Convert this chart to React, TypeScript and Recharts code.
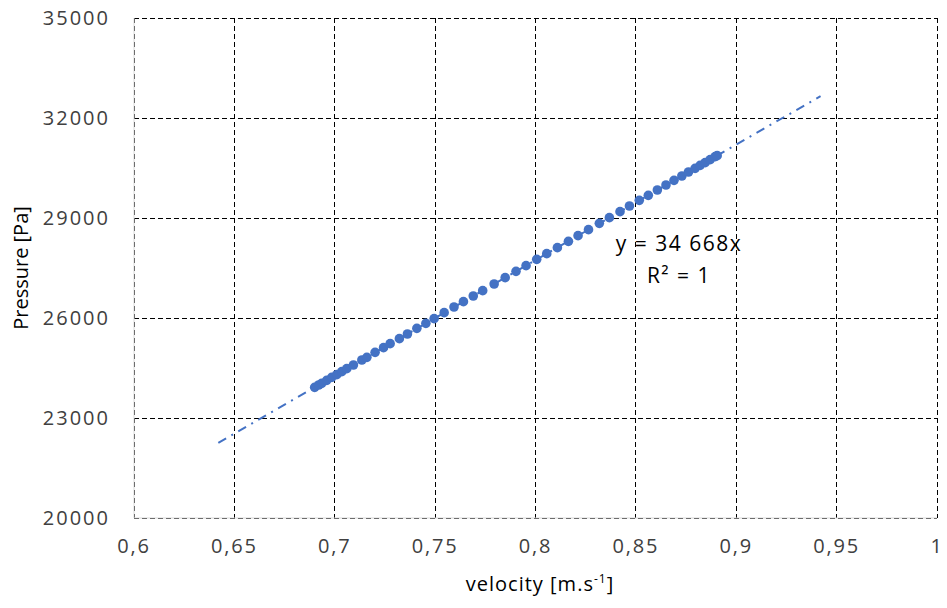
import React from 'react';
import {
  ScatterChart,
  Scatter,
  XAxis,
  YAxis,
  CartesianGrid,
} from 'recharts';

// measured points (velocity m/s, pressure Pa)
const velocity = [
  0.690, 0.692, 0.6935, 0.696, 0.6985, 0.701, 0.7035, 0.706, 0.7093, 0.7135,
  0.716, 0.7201, 0.7243, 0.7276, 0.7322, 0.7362, 0.7409, 0.7454, 0.7495, 0.7545,
  0.7594, 0.7641, 0.769, 0.7737, 0.7794, 0.7849, 0.7903, 0.7953, 0.8006, 0.8056,
  0.8109, 0.8164, 0.8212, 0.8264, 0.8318, 0.8368, 0.8421, 0.8468, 0.8517, 0.8562,
  0.8607, 0.865, 0.869, 0.8729, 0.8762, 0.8795, 0.882, 0.8845, 0.887, 0.8895, 0.8905,
];
const pressure = [
  23920, 23990, 24040, 24130, 24220, 24300, 24390, 24480, 24590, 24740,
  24820, 24970, 25110, 25230, 25380, 25520, 25690, 25840, 25980, 26160,
  26330, 26490, 26660, 26820, 27020, 27210, 27400, 27570, 27760, 27930,
  28110, 28300, 28470, 28650, 28840, 29010, 29190, 29360, 29530, 29680,
  29840, 29990, 30130, 30260, 30380, 30490, 30580, 30660, 30750, 30840, 30870,
];

// trendline y = 34 668x, drawn over the range shown
const trendVelocity = [0.642, 0.942];
const trendPressure = [22257, 32657];

const xTicks = [0.6, 0.65, 0.7, 0.75, 0.8, 0.85, 0.9, 0.95, 1];
const yTicks = [20000, 23000, 26000, 29000, 32000, 35000];

const points = velocity.map((v, i) => ({ x: v, y: pressure[i] }));
const trend = trendVelocity.map((v, i) => ({ x: v, y: trendPressure[i] }));

const FONT = '"Open Sans", Calibri, sans-serif';
const BLUE = '#4472C4';

const fmtX = (v: number) => String(v).replace('.', ',');

export default function App() {
  return (
    <div style={{ position: 'absolute', left: 0, top: 0, width: 947, height: 608, background: '#fff' }}>
      <ScatterChart width={947} height={608} margin={{ top: 18, right: 10, bottom: 0, left: 0 }}>
        <CartesianGrid stroke="#000" strokeDasharray="5 3" strokeWidth={1} shapeRendering="crispEdges" />
        <XAxis
          type="number"
          dataKey="x"
          domain={[0.6, 1]}
          ticks={xTicks}
          tickFormatter={fmtX}
          height={90}
          axisLine={{ stroke: '#d9d9d9' }}
          tickLine={false}
          tickSize={0}
          tickMargin={21}
          tick={{ fill: '#404040', fontSize: 20, fontFamily: FONT, letterSpacing: 1.8 }}
          allowDataOverflow
        />
        <YAxis
          type="number"
          dataKey="y"
          domain={[20000, 35000]}
          ticks={yTicks}
          width={134}
          axisLine={{ stroke: '#d9d9d9' }}
          tickLine={false}
          tickSize={0}
          tickMargin={24}
          tick={{ fill: '#404040', fontSize: 20, fontFamily: FONT, letterSpacing: 2 }}
          allowDataOverflow
        />
        <Scatter
          data={trend}
          fill="none"
          shape={() => <g />}
          line={{ stroke: BLUE, strokeWidth: 2, strokeDasharray: '9 6 2 6' }}
          isAnimationActive={false}
        />
        <Scatter
          data={points}
          fill={BLUE}
          isAnimationActive={false}
          shape={(p: any) => <circle cx={p.cx} cy={p.cy} r={4.8} fill={BLUE} />}
        />
        <text
          transform="translate(28 268) rotate(-90)"
          textAnchor="middle"
          fontFamily={FONT}
          fontSize={20}
          fill="#000"
        >
          Pressure [Pa]
        </text>
        <text x={540} y={591} textAnchor="middle" fontFamily={FONT} fontSize={20} letterSpacing={1} fill="#000">
          velocity [m.s<tspan dy={-8} fontSize={12}>-1</tspan><tspan dy={8}>]</tspan>
        </text>
        <text x={679} y={251} textAnchor="middle" fontFamily={FONT} fontSize={21} letterSpacing={1.5} fill="#000">
          y = 34 668x
        </text>
        <text x={679} y={283} textAnchor="middle" fontFamily={FONT} fontSize={21} letterSpacing={1.5} fill="#000">
          R² = 1
        </text>
      </ScatterChart>
    </div>
  );
}
